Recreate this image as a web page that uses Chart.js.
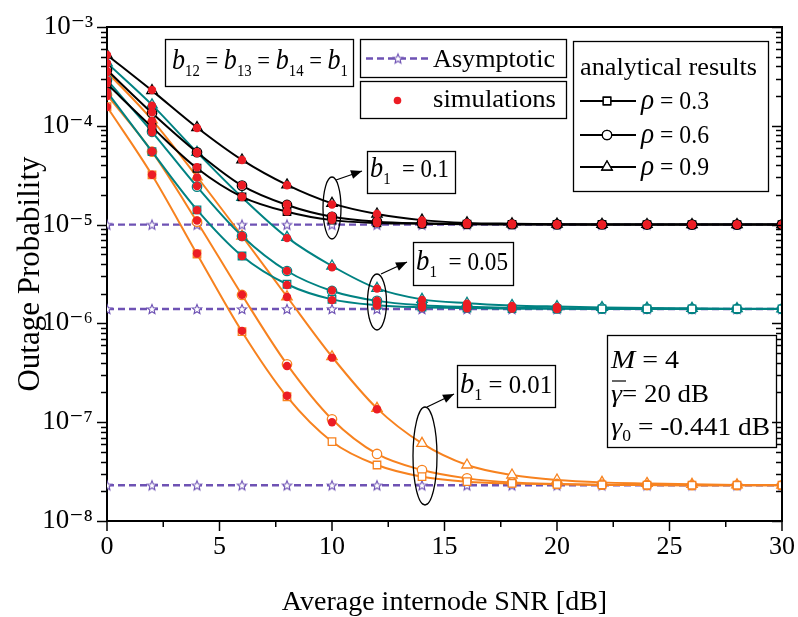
<!DOCTYPE html>
<html><head><meta charset="utf-8">
<script src="https://cdn.jsdelivr.net/npm/chart.js@4"></script>
<style>html,body{margin:0;padding:0;background:#fff;}#wrap{width:798px;height:617px;position:relative;}</style>
</head><body><div id="wrap"><canvas id="c"></canvas></div>
<script>
// ---------------- data ----------------
const snr = [0,2,4,6,8,10,12,14,16,18,20,22,24,26,28,30];
const xTickValues = [0,2.5,5,7.5,10,12.5,15,17.5,20,22.5,25,27.5,30];
const yDecades = [1e-8,1e-7,1e-6,1e-5,1e-4,1e-3];
const yMinorMantissas = [2,3,4,5,6,7,8,9];

// analytical results, b1 = 0.1 (black)
const b010_rho03 = [2.65e-4,9.7e-5,3.72e-5,1.91e-5,1.35e-5,1.11e-5,1.04e-5,1.02e-5,1.01e-5,1.005e-5,1.003e-5,1.002e-5,1.001e-5,1.0e-5,1.0e-5,1.0e-5];
const b010_rho06 = [3.67e-4,1.35e-4,5.4e-5,2.48e-5,1.58e-5,1.2e-5,1.07e-5,1.03e-5,1.015e-5,1.008e-5,1.004e-5,1.002e-5,1.001e-5,1.0e-5,1.0e-5,1.0e-5];
const b010_rho09 = [5.21e-4,2.27e-4,9.6e-5,4.51e-5,2.52e-5,1.64e-5,1.28e-5,1.11e-5,1.04e-5,1.02e-5,1.01e-5,1.005e-5,1.003e-5,1.002e-5,1.001e-5,1.0e-5];
// b1 = 0.05 (teal)
const b005_rho03 = [2.2e-4,5.47e-5,1.41e-5,4.81e-6,2.49e-6,1.75e-6,1.53e-6,1.46e-6,1.43e-6,1.41e-6,1.405e-6,1.402e-6,1.401e-6,1.4e-6,1.4e-6,1.4e-6];
const b005_rho06 = [2.91e-4,8.7e-5,2.42e-5,7.67e-6,3.39e-6,2.13e-6,1.69e-6,1.53e-6,1.47e-6,1.44e-6,1.42e-6,1.41e-6,1.405e-6,1.402e-6,1.401e-6,1.4e-6];
const b005_rho09 = [4.33e-4,1.63e-4,5.4e-5,1.89e-5,7.43e-6,3.81e-6,2.26e-6,1.75e-6,1.6e-6,1.52e-6,1.48e-6,1.45e-6,1.43e-6,1.42e-6,1.41e-6,1.405e-6];
// b1 = 0.01 (orange)
const b001_rho03 = [1.56e-4,3.18e-5,5.04e-6,8.24e-7,1.81e-7,6.35e-8,3.69e-8,2.81e-8,2.5e-8,2.4e-8,2.35e-8,2.32e-8,2.31e-8,2.3e-8,2.3e-8,2.3e-8];
const b001_rho06 = [2.05e-4,5.47e-5,1.07e-5,1.94e-6,3.85e-7,1.07e-7,4.77e-8,3.28e-8,2.7e-8,2.45e-8,2.37e-8,2.33e-8,2.31e-8,2.3e-8,2.3e-8,2.3e-8];
const b001_rho09 = [3.51e-4,1.15e-4,3.05e-5,7.67e-6,1.86e-6,4.6e-7,1.38e-7,6.11e-8,3.69e-8,2.92e-8,2.6e-8,2.46e-8,2.4e-8,2.35e-8,2.32e-8,2.31e-8];

// asymptotic floors
const asym_b010 = [1e-5,1e-5,1e-5,1e-5,1e-5,1e-5,1e-5,1e-5,1e-5,1e-5,1e-5,1e-5,1e-5,1e-5,1e-5,1e-5];
const asym_b005 = [1.4e-6,1.4e-6,1.4e-6,1.4e-6,1.4e-6,1.4e-6,1.4e-6,1.4e-6,1.4e-6,1.4e-6,1.4e-6,1.4e-6,1.4e-6,1.4e-6,1.4e-6,1.4e-6];
const asym_b001 = [2.3e-8,2.3e-8,2.3e-8,2.3e-8,2.3e-8,2.3e-8,2.3e-8,2.3e-8,2.3e-8,2.3e-8,2.3e-8,2.3e-8,2.3e-8,2.3e-8,2.3e-8,2.3e-8];

// simulations (null = not simulated)
const sim_b010_rho03 = [2.7e-4,9.8e-5,3.8e-5,1.92e-5,1.36e-5,1.12e-5,1.04e-5,1.02e-5,1.01e-5,1.005e-5,1.0e-5,1.0e-5,1.0e-5,1.0e-5,1.0e-5,1.0e-5];
const sim_b010_rho06 = [3.6e-4,1.37e-4,5.4e-5,2.5e-5,1.6e-5,1.22e-5,1.08e-5,1.04e-5,1.02e-5,1.01e-5,1.0e-5,1.0e-5,1.0e-5,1.0e-5,1.0e-5,1.0e-5];
const sim_b010_rho09 = [5.2e-4,2.3e-4,9.5e-5,4.5e-5,2.5e-5,1.6e-5,1.28e-5,1.1e-5,1.04e-5,1.02e-5,1.01e-5,1.0e-5,1.0e-5,1.0e-5,1.0e-5,1.0e-5];
const sim_b005_rho03 = [2.2e-4,5.5e-5,1.4e-5,4.8e-6,2.45e-6,1.72e-6,1.52e-6,1.45e-6,1.42e-6,1.41e-6,1.4e-6,null,null,null,null,null];
const sim_b005_rho06 = [2.9e-4,8.6e-5,2.45e-5,7.7e-6,3.4e-6,2.15e-6,1.7e-6,1.52e-6,1.46e-6,1.43e-6,1.41e-6,null,null,null,null,null];
const sim_b005_rho09 = [4.3e-4,1.6e-4,5.3e-5,1.9e-5,7.3e-6,3.7e-6,2.25e-6,1.73e-6,1.58e-6,1.5e-6,1.47e-6,null,null,null,null,null];
const sim_b001_rho03 = [1.55e-4,3.2e-5,5.1e-6,8.4e-7,1.85e-7,null,null,null,null,null,null,null,null,null,null,null];
const sim_b001_rho06 = [2.0e-4,5.5e-5,1.1e-5,1.95e-6,3.7e-7,1.0e-7,null,null,null,null,null,null,null,null,null,null];
const sim_b001_rho09 = [3.5e-4,1.12e-4,3.0e-5,7.5e-6,1.85e-6,4.5e-7,1.35e-7,null,null,null,null,null,null,null,null,null];

// ---------------- styles ----------------
const SERIF = '"Liberation Serif", "DejaVu Serif", serif';
const BLACK = '#000000', TEAL = '#008282', ORANGE = '#f7821f', RED = '#ec1c24', PURPLE = '#6e52b4';

function makeStar(r, color) {
  const s = Math.ceil(2 * r + 4);
  const c = document.createElement('canvas'); c.width = s; c.height = s;
  const g = c.getContext('2d');
  g.beginPath();
  for (let i = 0; i < 10; i++) {
    const a = -Math.PI / 2 + i * Math.PI / 5, rr = (i % 2) ? r * 0.45 : r;
    const px = s / 2 + rr * Math.cos(a), py = s / 2 + rr * Math.sin(a) + 0.5;
    i ? g.lineTo(px, py) : g.moveTo(px, py);
  }
  g.closePath(); g.fillStyle = '#fff'; g.fill();
  g.strokeStyle = color; g.lineWidth = 1.1; g.stroke();
  return c;
}
const starImg = makeStar(5, PURPLE);

const pts = arr => snr.map((x, i) => ({x: x, y: arr[i]}));
const MARK = {'rect': 5.3, 'circle': 4.7, 'triangle': 6};

function curve(arr, color, style) {
  return {data: pts(arr), borderColor: color, borderWidth: 2, backgroundColor: '#fff',
    pointStyle: style, pointRadius: MARK[style], pointBorderWidth: 1.3, pointBorderColor: color,
    pointBackgroundColor: '#fff', cubicInterpolationMode: 'monotone', fill: false, order: 2};
}
function sim(arr) {
  return {data: pts(arr), showLine: false, pointStyle: 'circle', pointRadius: 4.2,
    pointBackgroundColor: RED, pointBorderColor: RED, pointBorderWidth: 0, order: 1};
}
function asym(arr) {
  return {data: pts(arr), borderColor: PURPLE, borderWidth: 2.4, borderDash: [7, 4],
    pointStyle: starImg, pointRadius: 5, fill: false, tension: 0, order: 3};
}

const datasets = [
  asym(asym_b010), asym(asym_b005), asym(asym_b001),
  curve(b010_rho03, BLACK, 'rect'), curve(b010_rho06, BLACK, 'circle'), curve(b010_rho09, BLACK, 'triangle'),
  curve(b005_rho03, TEAL, 'rect'), curve(b005_rho06, TEAL, 'circle'), curve(b005_rho09, TEAL, 'triangle'),
  curve(b001_rho03, ORANGE, 'rect'), curve(b001_rho06, ORANGE, 'circle'), curve(b001_rho09, ORANGE, 'triangle'),
  sim(sim_b010_rho03), sim(sim_b010_rho06), sim(sim_b010_rho09),
  sim(sim_b005_rho03), sim(sim_b005_rho06), sim(sim_b005_rho09),
  sim(sim_b001_rho03), sim(sim_b001_rho06), sim(sim_b001_rho09)
];

const SUP = {'-': '\u207B', '0': '\u2070', '1': '\u00B9', '2': '\u00B2', '3': '\u00B3', '4': '\u2074', '5': '\u2075', '6': '\u2076', '7': '\u2077', '8': '\u2078', '9': '\u2079'};
function isDecade(v) { const l = Math.log10(v); return Math.abs(l - Math.round(l)) < 1e-9; }

// ---------------- helpers for annotations ----------------
function rich(ctx, segs, x, y, targetW) {
  let w = 0;
  segs.forEach(s => { ctx.font = s[1]; w += ctx.measureText(s[0]).width; });
  const sx = targetW ? targetW / w : 1;
  ctx.save(); ctx.translate(x, y); ctx.scale(sx, 1);
  let cx = 0;
  segs.forEach(s => { ctx.font = s[1]; ctx.fillText(s[0], cx, s[2] || 0); cx += ctx.measureText(s[0]).width; });
  ctx.restore();
}
function box(ctx, x1, y1, x2, y2) { ctx.strokeRect(x1 + 0.5, y1 + 0.5, x2 - x1, y2 - y1); }
function arrow(ctx, x1, y1, x2, y2) {
  ctx.beginPath(); ctx.moveTo(x1, y1); ctx.lineTo(x2, y2); ctx.stroke();
  const a = Math.atan2(y2 - y1, x2 - x1), L = 11, W = 4.5;
  ctx.beginPath(); ctx.moveTo(x2, y2);
  ctx.lineTo(x2 - L * Math.cos(a) + W * Math.sin(a), y2 - L * Math.sin(a) - W * Math.cos(a));
  ctx.lineTo(x2 - L * Math.cos(a) - W * Math.sin(a), y2 - L * Math.sin(a) + W * Math.cos(a));
  ctx.closePath(); ctx.fill();
}
function ellipse(ctx, cx, cy, rx, ry) { ctx.beginPath(); ctx.ellipse(cx, cy, rx, ry, 0, 0, 2 * Math.PI); ctx.stroke(); }

const IT = 'italic 30px ' + SERIF, RG = '26px ' + SERIF, SUB = '17px ' + SERIF;

const framePlugin = {
  id: 'frame',
  afterDraw(chart) {
    const ctx = chart.ctx, ca = chart.chartArea, xs = chart.scales.x, ys = chart.scales.y;
    ctx.save();
    ctx.strokeStyle = '#000'; ctx.fillStyle = '#000';
    // frame top & right
    ctx.lineWidth = 2;
    ctx.beginPath(); ctx.moveTo(ca.left, ca.top); ctx.lineTo(ca.right, ca.top); ctx.lineTo(ca.right, ca.bottom); ctx.stroke();
    // tick marks
    ctx.lineWidth = 1.5;
    xTickValues.forEach(v => {
      const px = xs.getPixelForValue(v), len = (v % 5 === 0) ? 10 : 6;
      ctx.beginPath(); ctx.moveTo(px, ca.bottom); ctx.lineTo(px, ca.bottom + len); ctx.stroke();
    });
    const yt = [];
    yDecades.forEach(d => { yt.push([d, true]); if (d < 1e-3) yMinorMantissas.forEach(m => yt.push([m * d, false])); });
    yt.forEach(t => {
      const py = Math.round(ys.getPixelForValue(t[0])) + 0.5, len = t[1] ? 10 : 6;
      ctx.beginPath(); ctx.moveTo(ca.left - len, py); ctx.lineTo(ca.left, py); ctx.stroke();
      ctx.beginPath(); ctx.moveTo(ca.right - len, py); ctx.lineTo(ca.right, py); ctx.stroke();
    });

    // annotation boxes
    ctx.lineWidth = 1.3;
    ctx.textBaseline = 'alphabetic';
    // b12 = b13 = b14 = b1
    box(ctx, 165, 39, 353, 86);
    rich(ctx, [['b', IT], ['12', SUB, 7], [' = ', RG], ['b', IT], ['13', SUB, 7], [' = ', RG], ['b', IT], ['14', SUB, 7], [' = ', RG], ['b', IT], ['1', SUB, 7]], 172, 69, 176);
    // legend: asymptotic / simulations
    box(ctx, 360, 39, 566, 77);
    box(ctx, 360, 81, 566, 118);
    ctx.save(); ctx.strokeStyle = PURPLE; ctx.lineWidth = 2.4; ctx.setLineDash([7, 4]);
    ctx.beginPath(); ctx.moveTo(366, 58.5); ctx.lineTo(428, 58.5); ctx.stroke(); ctx.restore();
    ctx.drawImage(starImg, 398 - starImg.width / 2, 58.5 - starImg.height / 2);
    rich(ctx, [['Asymptotic', '26px ' + SERIF]], 433, 67, 122);
    ctx.beginPath(); ctx.fillStyle = RED; ctx.arc(397.5, 100.5, 3.8, 0, 2 * Math.PI); ctx.fill(); ctx.fillStyle = '#000';
    rich(ctx, [['simulations', '26px ' + SERIF]], 433, 107, 123);
    // legend: analytical results
    box(ctx, 573, 41, 768, 191);
    rich(ctx, [['analytical results', '26px ' + SERIF]], 580, 75, 177);
    const rows = [['rect', '0.3', 101], ['circle', '0.6', 135], ['triangle', '0.9', 167]];
    rows.forEach(r => {
      ctx.lineWidth = 2; ctx.strokeStyle = '#000';
      ctx.beginPath(); ctx.moveTo(580, r[2]); ctx.lineTo(636, r[2]); ctx.stroke();
      ctx.lineWidth = 1.3; ctx.fillStyle = '#fff';
      Chart.helpers.drawPoint(ctx, {pointStyle: r[0], radius: MARK[r[0]], borderWidth: 1.3, rotation: 0}, 607, r[2]);
      ctx.fill(); ctx.stroke();
      ctx.fillStyle = '#000';
      rich(ctx, [['\u03C1', IT], [' = ' + r[1], RG]], 641, r[2] + 8, 68);
    });
    ctx.lineWidth = 1.3;
    // b1 = 0.1
    box(ctx, 367, 151, 455, 193);
    rich(ctx, [['b', IT], ['1', SUB, 7], ['  = 0.1', RG]], 370, 177, 79);
    ellipse(ctx, xs.getPixelForValue(10), 208, 9, 31);
    arrow(ctx, 336, 180, 362, 171);
    // b1 = 0.05
    box(ctx, 413, 242, 513, 285);
    rich(ctx, [['b', IT], ['1', SUB, 7], ['  = 0.05', RG]], 416, 270, 92);
    ellipse(ctx, xs.getPixelForValue(12), 302, 9.5, 28);
    arrow(ctx, 381, 274, 407, 262);
    // b1 = 0.01
    box(ctx, 457, 365, 555, 407);
    rich(ctx, [['b', IT], ['1', SUB, 7], [' = 0.01', RG]], 460, 393, 92);
    ellipse(ctx, xs.getPixelForValue(14) + 3, 456, 12, 49);
    arrow(ctx, 427, 407, 454, 394);
    // parameters
    box(ctx, 607, 335, 776, 447);
    rich(ctx, [['M', 'italic 26px ' + SERIF], [' = 4', '25px ' + SERIF]], 611, 368, 68);
    rich(ctx, [['\u03B3', 'italic 26px ' + SERIF], ['= 20 dB', '25px ' + SERIF]], 611, 402, 98);
    ctx.lineWidth = 1.2; ctx.beginPath(); ctx.moveTo(612, 381); ctx.lineTo(626, 381); ctx.stroke();
    rich(ctx, [['\u03B3', 'italic 26px ' + SERIF], ['0', '16px ' + SERIF, 6], [' = -0.441 dB', '25px ' + SERIF]], 611, 435, 159);
    ctx.restore();
  }
};

new Chart(document.getElementById('c'), {
  type: 'line',
  data: {datasets: datasets},
  plugins: [framePlugin],
  options: {
    responsive: true, maintainAspectRatio: false, animation: false,
    layout: {padding: {left: 0, right: 16, top: 27, bottom: 0}},
    plugins: {legend: {display: false}, tooltip: {enabled: false}},
    elements: {line: {tension: 0.4}},
    scales: {
      x: {
        type: 'linear', min: 0, max: 30,
        afterBuildTicks: s => { s.ticks = xTickValues.map(v => ({value: v})); },
        afterFit: s => { s.height = 96; s.paddingLeft = 0; s.paddingRight = 0; },
        grid: {display: false, drawTicks: false},
        border: {display: true, color: '#000', width: 2},
        ticks: {autoSkip: false, maxRotation: 0, padding: 11, color: '#000',
          font: {family: SERIF, size: 26},
          callback: v => (v % 5 === 0 ? String(v) : '')},
        title: {display: true, text: 'Average internode SNR [dB]', color: '#000',
          font: {family: SERIF, size: 28, lineHeight: 1.0}, padding: {top: 0, bottom: 0}}
      },
      y: {
        type: 'logarithmic', min: 1e-8, max: 1e-3,
        afterBuildTicks: s => { s.ticks = yDecades.map(v => ({value: v})); },
        afterFit: s => { s.width = 107; s.paddingTop = 0; s.paddingBottom = 0; },
        grid: {display: false, drawTicks: false},
        border: {display: true, color: '#000', width: 2},
        ticks: {autoSkip: false, padding: 14, color: '#000',
          font: {family: SERIF, size: 27},
          callback: v => {
            if (!isDecade(v)) return '';
            const e = String(Math.round(Math.log10(v)));
            return '10' + e.split('').map(c => SUP[c]).join('');
          }},
        title: {display: true, text: 'Outage Probability', color: '#000',
          font: {family: SERIF, size: 31}, padding: {top: 12, bottom: 0}}
      }
    }
  }
});
</script>
</body></html>
